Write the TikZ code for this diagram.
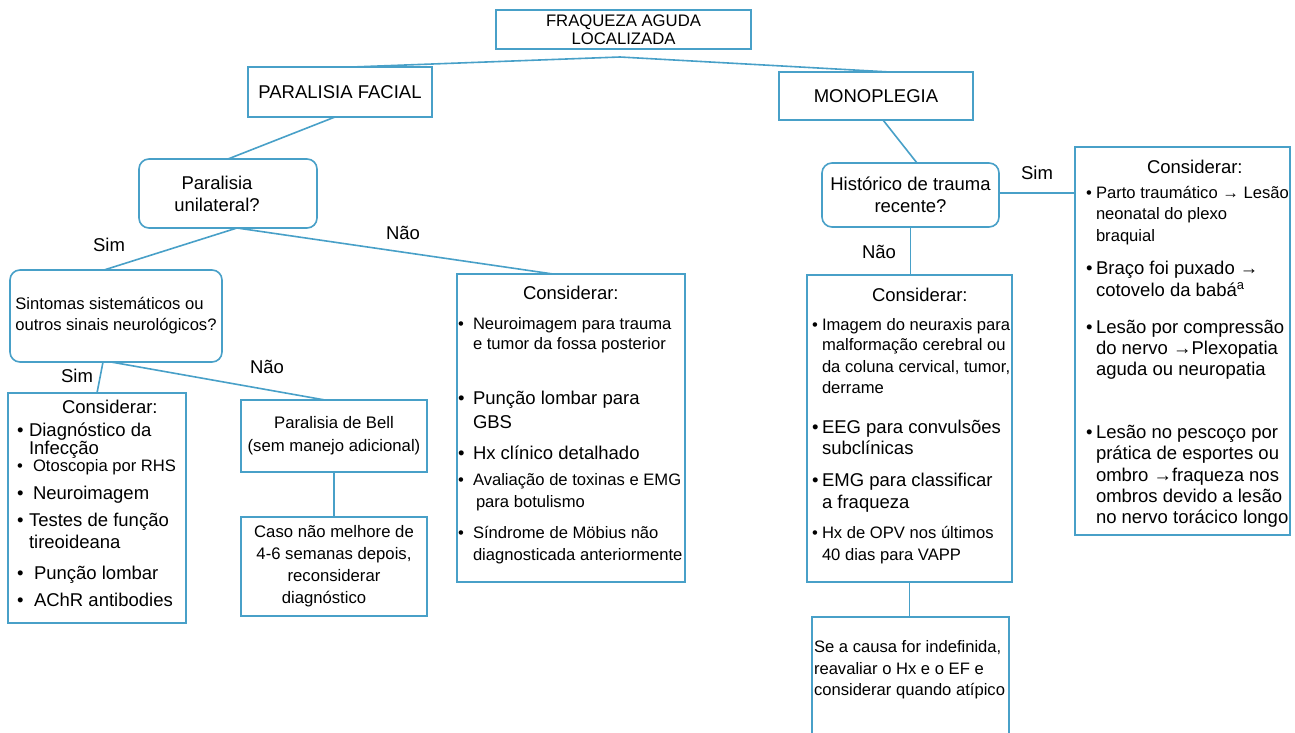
\documentclass[tikz,border=0pt]{standalone}
\usepackage{fontspec}
\setmainfont{Liberation Sans}
\definecolor{bl}{RGB}{72,160,200}
\newcommand\fS{\fontsize{16.6pt}{20pt}\selectfont}
\newcommand\fL{\fontsize{18.5pt}{22pt}\selectfont}
\newcommand\tline[5]{\node[tx,font=#4] (#1) at (#2,#3) {#5};}
\newcommand\bitem[6]{\node[tx,font=#5] (#1b) at (#2,#4) {\textbullet};\node[tx,font=#5] (#1) at (#3,#4) {#6};}
\begin{document}
\begin{tikzpicture}[x=1pt,y=-1pt,
  box/.style={draw=bl, line width=1.6pt, inner sep=0pt, outer sep=0pt, align=center},
  rbox/.style={box, rounded corners=10pt},
  conn/.style={draw=bl, line width=1.6pt},
  tx/.style={anchor=base west, inner sep=0pt, outer sep=0pt},
  lab/.style={font=\fL, inner sep=0pt}]
\clip (0,0) rectangle (1295,733);
\fill[white] (0,0) rectangle (1295,733);

% boxes
\node[box, minimum width=255pt, minimum height=39pt, font=\fontsize{16.7pt}{18pt}\selectfont] (title) at (623.5,29.5) {FRAQUEZA AGUDA\\LOCALIZADA};
\node[box, minimum width=184pt, minimum height=50pt, font=\fL] (pf) at (340,92) {PARALISIA FACIAL};
\node[box, minimum width=194pt, minimum height=48pt, font=\fL] (mono) at (876,96) {MONOPLEGIA};
\node[rbox, minimum width=178pt, minimum height=69pt, font=\fL] (pu) at (228,193.5) {Paralisia\hspace*{22pt}\\unilateral?\hspace*{22pt}};
\node[rbox, minimum width=177pt, minimum height=64pt, font=\fL] (hist) at (910.5,195) {Histórico de trauma\\recente?};
\node[rbox, minimum width=212pt, minimum height=92pt, font=\fontsize{16.6pt}{21pt}\selectfont, align=left] (sint) at (116,316) {Sintomas sistemáticos ou\\outros sinais neurológicos?};
\node[box, minimum width=178pt, minimum height=230pt] (cL) at (97,508) {};
\node[box, minimum width=186pt, minimum height=72pt, font=\fontsize{16.7pt}{23pt}\selectfont] (bell) at (334,436) {Paralisia de Bell\\(sem manejo adicional)};
\node[box, minimum width=186pt, minimum height=99pt, font=\fontsize{16.7pt}{22pt}\selectfont] (caso) at (334,566.5) {Caso não melhore de\\4-6 semanas depois,\\reconsiderar\\diagnóstico\hspace*{20pt}};
\node[box, minimum width=228pt, minimum height=308pt] (cM) at (571,428) {};
\node[box, minimum width=205pt, minimum height=307pt] (cR2) at (909.5,428.5) {};
\node[box, minimum width=197pt, minimum height=126pt] (se) at (910.5,680) {};
\node[box, minimum width=215pt, minimum height=388pt] (cR) at (1182.5,341) {};

% left considerar
\tline{lc}{62}{413}{\fL}{Considerar:}
\bitem{l1}{17}{29}{436}{\fL}{Diagnóstico da}
\tline{l1a}{29}{454}{\fL}{Infecção}
\bitem{l2}{17}{33}{471.5}{\fS}{Otoscopia por RHS}
\bitem{l3}{17}{33}{499}{\fL}{Neuroimagem}
\bitem{l4}{17}{29}{526}{\fL}{Testes de função}
\tline{l4a}{29}{548}{\fL}{tireoideana}
\bitem{l5}{17}{34}{579}{\fL}{Punção lombar}
\bitem{l6}{17}{34}{606}{\fL}{AChR antibodies}

% middle-left considerar
\tline{mc}{523}{299}{\fL}{Considerar:}
\bitem{m1}{458}{473}{329}{\fS}{Neuroimagem para trauma}
\tline{m1a}{473}{349}{\fS}{e tumor da fossa posterior}
\bitem{m2}{458}{473}{404}{\fL}{Punção lombar para}
\tline{m2a}{473}{428}{\fL}{GBS}
\bitem{m3}{458}{473}{459}{\fL}{Hx clínico detalhado}
\bitem{m4}{458}{473}{485.5}{\fS}{Avaliação de toxinas e EMG}
\tline{m4a}{476}{507.5}{\fS}{para botulismo}
\bitem{m5}{458}{473}{538.5}{\fS}{Síndrome de Möbius não}
\tline{m5a}{473}{560.5}{\fS}{diagnosticada anteriormente}

% middle-right considerar
\tline{rc}{872}{301}{\fL}{Considerar:}
\bitem{r1}{812}{822}{330.5}{\fS}{Imagem do neuraxis para}
\tline{r1a}{822}{350.5}{\fS}{malformação cerebral ou}
\tline{r1b}{822}{372.5}{\fS}{da coluna cervical, tumor,}
\tline{r1c}{822}{393.5}{\fS}{derrame}
\bitem{r2}{812}{822}{433}{\fL}{EEG para convulsões}
\tline{r2a}{822}{454}{\fL}{subclínicas}
\bitem{r3}{812}{822}{486}{\fL}{EMG para classificar}
\tline{r3a}{822}{508}{\fL}{a fraqueza}
\bitem{r4}{812}{822}{538.5}{\fS}{Hx de OPV nos últimos}
\tline{r4a}{822}{560.5}{\fS}{40 dias para VAPP}

% bottom box
\tline{s1}{814}{652}{\fS}{Se a causa for indefinida,}
\tline{s2}{814}{674}{\fS}{reavaliar o Hx e o EF e}
\tline{s3}{814}{695}{\fS}{considerar quando atípico}

% right considerar
\tline{xc}{1147}{173}{\fL}{Considerar:}
\bitem{x1}{1086}{1096}{198.5}{\fS}{Parto traumático → Lesão}
\tline{x1a}{1096}{219}{\fS}{neonatal do plexo}
\tline{x1b}{1096}{241}{\fS}{braquial}
\bitem{x2}{1086}{1096}{274}{\fL}{Braço foi puxado →}
\tline{x2a}{1096}{296}{\fL}{cotovelo da babá\textsuperscript{a}}
\bitem{x3}{1086}{1096}{333}{\fL}{Lesão por compressão}
\tline{x3a}{1096}{354}{\fL}{do nervo →Plexopatia}
\tline{x3b}{1096}{375}{\fL}{aguda ou neuropatia}
\bitem{x4}{1086}{1096}{438}{\fL}{Lesão no pescoço por}
\tline{x4a}{1096}{459}{\fL}{prática de esportes ou}
\tline{x4b}{1096}{481}{\fL}{ombro →fraqueza nos}
\tline{x4c}{1096}{502}{\fL}{ombros devido a lesão}
\tline{x4d}{1096}{523}{\fL}{no nervo torácico longo}

% labels
\node[lab] (sim1) at (1037,173) {Sim};
\node[lab] (nao1) at (879,252) {Não};
\node[lab] (sim2) at (109,245) {Sim};
\node[lab] (nao2) at (403,233) {Não};
\node[lab] (sim3) at (77,376) {Sim};
\node[lab] (nao3) at (267,367) {Não};

% connectors
\coordinate (apex) at (620,57);
\draw[conn] ([xshift=12pt]pf.north) -- (apex) -- ([xshift=14pt]mono.north);
\draw[conn] ([xshift=-5pt]pf.south) -- (pu.north);
\draw[conn] ([xshift=7pt]mono.south) -- ([xshift=6.5pt]hist.north);
\draw[conn] ([yshift=2pt]hist.east) -- ([yshift=2pt]hist.east -| cR.west);
\draw[conn] (hist.south) -- (hist.south |- cR2.north);
\draw[conn] (cR2.south) -- (cR2.south |- se.north);
\draw[conn] ([xshift=9pt]pu.south) -- ([xshift=-12pt]sint.north);
\draw[conn] ([xshift=9pt]pu.south) -- ([xshift=-18pt]cM.north);
\draw[conn] ([xshift=-13pt]sint.south) -- (cL.north);
\draw[conn] ([xshift=-5pt]sint.south) -- ([xshift=-9pt]bell.north);
\draw[conn] (bell.south) -- (caso.north);
\end{tikzpicture}
\end{document}
